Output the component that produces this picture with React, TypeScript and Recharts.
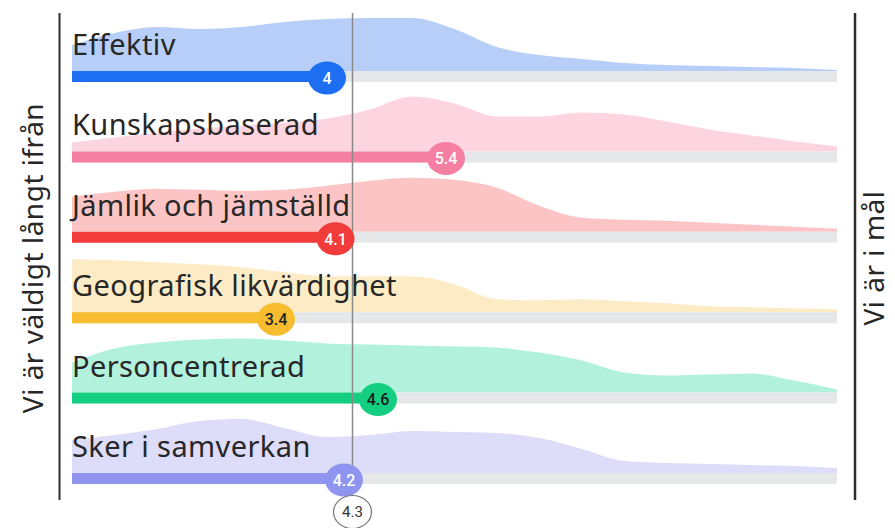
import React from 'react';
import { ComposedChart, Area, XAxis, YAxis, ReferenceArea, ReferenceDot, ReferenceLine } from 'recharts';

const W = 895;
const H = 528;

const categories = [
  'Effektiv',
  'Kunskapsbaserad',
  'Jämlik och jämställd',
  'Geografisk likvärdighet',
  'Personcentrerad',
  'Sker i samverkan',
];
const scores = [4, 5.4, 4.1, 3.4, 4.6, 4.2];
const average = 4.3;

// answer scale 1..10, sampled every half step
const scalePoints = [1, 1.5, 2, 2.5, 3, 3.5, 4, 4.5, 5, 5.5, 6, 6.5, 7, 7.5, 8, 8.5, 9, 9.5, 10];

// relative answer distribution per category (ridge height)
const effektivDist = [26, 38, 44, 42, 44, 49, 52, 53, 53, 42, 24, 16, 12, 8, 6, 5, 4, 3, 1];
const kunskapDist = [9, 14, 19, 23, 26, 29, 33, 42, 55, 48, 35, 35, 39, 37, 30, 22, 16, 10, 5];
const jamlikDist = [35, 40, 43, 42, 41, 42, 46, 51, 54, 52, 44, 26, 14, 12, 11, 9, 7, 5, 3];
const geografiskDist = [53, 52, 50, 48, 45, 40, 36, 36, 36, 28, 13, 12, 13, 11, 9, 6, 5, 4, 3];
const personDist = [30, 44, 50, 53, 54, 52, 49, 48, 47, 46, 45, 40, 32, 20, 17, 18, 19, 12, 3];
const samverkanDist = [33, 38, 44, 52, 54, 45, 36, 38, 42, 41, 40, 35, 24, 12, 10, 9, 8, 7, 5];

const distributions = [effektivDist, kunskapDist, jamlikDist, geografiskDist, personDist, samverkanDist];

const barColors = ['#1d6ef0', '#f47fa2', '#f23b3b', '#f8bd2e', '#14cf82', '#8f95ef'];
const areaColors = ['#b7cff8', '#fcd5e0', '#fcc4c4', '#fdebc6', '#b2f2dc', '#dddcf9'];
const numberColors = ['#ffffff', '#ffffff', '#ffffff', '#222222', '#1a1a1a', '#ffffff'];

const ROW_TOP = 71;
const ROW_STEP = 80.4;
const BAR_H = 11;
const baseOf = (i: number) => ROW_TOP + i * ROW_STEP;

const data = scalePoints.map((x, j) => {
  const row: any = { x };
  distributions.forEach((d, i) => {
    row['r' + i] = [baseOf(i) - d[j], baseOf(i)];
  });
  return row;
});

const labelFont = '"Noto Sans", "Open Sans", sans-serif';
const numFont = 'Roboto, "Liberation Sans", Arial, sans-serif';

const Bubble = (fill: string, color: string, text: string, stroke?: string) => (p: any) => (
  <g>
    <ellipse cx={p.cx} cy={p.cy} rx={19} ry={16.5} fill={fill} stroke={stroke || 'none'} strokeWidth={1.2} />
    <text
      x={p.cx}
      y={p.cy}
      dy="0.36em"
      textAnchor="middle"
      fontFamily={numFont}
      fontSize={stroke ? 15 : 16}
      fontWeight={stroke ? 400 : 500}
      fill={color}
    >
      {text}
    </text>
  </g>
);

export default function App() {
  return (
    <div style={{ position: 'absolute', left: 0, top: 0, width: W, height: H, background: '#fff' }}>
      <ComposedChart width={W} height={H} data={data} margin={{ top: 0, right: 58, bottom: 0, left: 72 }}>
        <XAxis type="number" dataKey="x" domain={[1, 10]} hide />
        <YAxis type="number" domain={[0, H]} reversed hide allowDataOverflow />
        {distributions.map((_, i) => (
          <Area
            key={'a' + i}
            dataKey={'r' + i}
            type="monotone"
            stroke="none"
            fill={areaColors[i]}
            fillOpacity={1}
            isAnimationActive={false}
            dot={false}
            activeDot={false}
          />
        ))}
        {categories.map((name, i) => (
          <ReferenceArea
            key={'t' + i}
            x1={1}
            x2={10}
            y1={baseOf(i)}
            y2={baseOf(i) + BAR_H}
            fill="#e6e7e8"
            fillOpacity={1}
            stroke="none"
            label={({ viewBox }: any) => (
              <text
                x={viewBox.x}
                y={viewBox.y - 16}
                fontFamily={labelFont}
                fontSize={29}
                letterSpacing={0.4}
                fill="#272727"
              >
                {name}
              </text>
            )}
          />
        ))}
        <ReferenceLine
          segment={[
            { x: average, y: 13 },
            { x: average, y: 496 },
          ]}
          stroke="#8a8a8a"
          strokeWidth={1.5}
        />
        {scores.map((s, i) => (
          <ReferenceArea
            key={'b' + i}
            x1={1}
            x2={s}
            y1={baseOf(i)}
            y2={baseOf(i) + BAR_H}
            fill={barColors[i]}
            fillOpacity={1}
            stroke="none"
          />
        ))}
        {scores.map((s, i) => (
          <ReferenceDot
            key={'d' + i}
            x={s}
            y={baseOf(i) + 7}
            r={17}
            shape={Bubble(barColors[i], numberColors[i], String(s))}
          />
        ))}
        <ReferenceDot x={average} y={512} r={17} shape={Bubble('#ffffff', '#333333', String(average), '#777777')} />
      </ComposedChart>
      <svg width={W} height={H} style={{ position: 'absolute', left: 0, top: 0, pointerEvents: 'none' }}>
        <line x1={59.5} y1={13} x2={59.5} y2={500} stroke="#2e2e2e" strokeWidth={2} />
        <line x1={855} y1={13} x2={855} y2={500} stroke="#2e2e2e" strokeWidth={2.5} />
        <text
          transform="translate(32 258) rotate(-90)"
          textAnchor="middle"
          dominantBaseline="central"
          fontFamily={labelFont}
          fontSize={28}
          letterSpacing={0.5}
          fill="#272727"
        >
          Vi är väldigt långt ifrån
        </text>
        <text
          transform="translate(873 258) rotate(-90)"
          textAnchor="middle"
          dominantBaseline="central"
          fontFamily={labelFont}
          fontSize={28}
          letterSpacing={0.5}
          fill="#272727"
        >
          Vi är i mål
        </text>
      </svg>
    </div>
  );
}
